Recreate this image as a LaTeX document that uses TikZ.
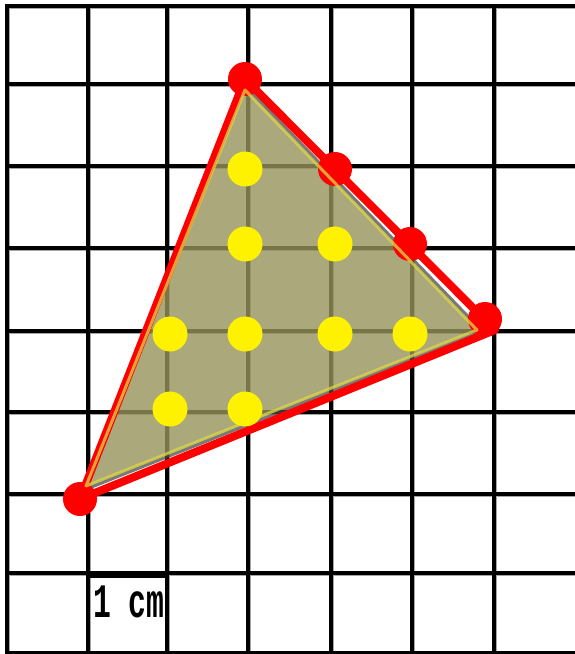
\documentclass[tikz,border=0pt]{standalone}
\usepackage{fontspec}
\newfontfamily\labelfont{Liberation Mono}
\definecolor{olivefill}{RGB}{150,147,90}
\definecolor{edgeyellow}{RGB}{222,216,70}
\begin{document}
\begin{tikzpicture}[x=1pt,y=-1pt,
  gridhalo/.style={black!35, line width=5pt, line cap=rect},
  gridline/.style={black, line width=3.2pt, line cap=rect},
  redline/.style={red, line width=8pt, line join=round},
  reddot/.style={circle, fill=red, minimum size=34pt, inner sep=0pt},
  yeldot/.style={circle, fill=yellow, minimum size=35pt, inner sep=0pt},
  shadowline/.style={black!70, line width=9pt, opacity=0.75, line join=round},
  fillarea/.style={fill=olivefill, fill opacity=0.8},
  edgeline/.style={draw=edgeyellow, line width=3pt, opacity=0.75, line join=round}]
\useasboundingbox (0,0) rectangle (575,654);
\fill[white] (0,0) rectangle (575,654);
\begin{scope}
\clip (0,0) rectangle (575,654);
\foreach \x in {7,88,167,248,331,412,494} \draw[gridhalo] (\x,6) -- (\x,660);
\foreach \y in {6,84,166,248,331,412,494,573,653} \draw[gridhalo] (7,\y) -- (580,\y);
\foreach \x in {7,88,167,248,331,412,494} \draw[gridline] (\x,6) -- (\x,660);
\foreach \y in {6,84,166,248,331,412,494,573,653} \draw[gridline] (7,\y) -- (580,\y);
\end{scope}
\draw[black, line width=6pt] (88,575) -- (167,575);
\node[anchor=base west, inner sep=0pt] (lbl) at (93,617)
  {\scalebox{0.62}[1]{\labelfont\fontsize{48}{48}\selectfont\bfseries 1 cm}};
% triangle
\coordinate (F1) at (245,90);
\coordinate (F2) at (477,330);
\coordinate (F3) at (86,486);
\coordinate (R1) at (245,79);
\coordinate (R2) at (495,330);
\coordinate (R3) at (80,499);
\begin{scope}[even odd rule]
\clip (0,0) rectangle (575,654) (F1) -- (F2) -- (F3) -- cycle;
\draw[shadowline] (F1) -- (F2) -- (F3) -- cycle;
\end{scope}
\fill[fillarea] (F1) -- (F2) -- (F3) -- cycle;
\draw[redline] (R1) -- (R2) -- (R3) -- cycle;
\node[reddot] (r1) at (245,79) {};
\node[reddot] (r2) at (335,169) {};
\node[reddot] (r3) at (410,244) {};
\node[reddot] (r4) at (485,319) {};
\node[reddot] (r5) at (80,499) {};
\draw[edgeline] (F1) -- (F2) -- (F3) -- cycle;
\node[yeldot] (y1) at (245,169) {};
\node[yeldot] (y2) at (245,244) {};
\node[yeldot] (y3) at (335,244) {};
\node[yeldot] (y4) at (170,334) {};
\node[yeldot] (y5) at (245,334) {};
\node[yeldot] (y6) at (335,334) {};
\node[yeldot] (y7) at (410,334) {};
\node[yeldot] (y8) at (170,409) {};
\node[yeldot] (y9) at (245,409) {};
\end{tikzpicture}
\end{document}
